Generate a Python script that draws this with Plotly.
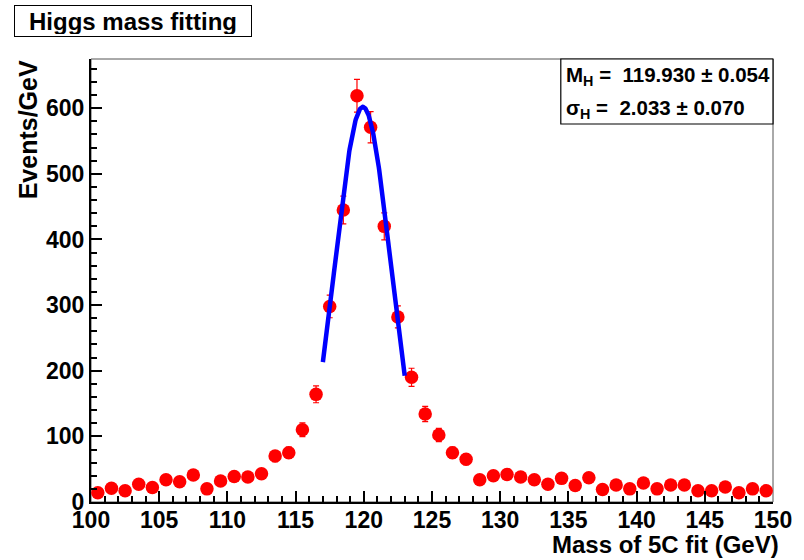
import numpy as np
import plotly.graph_objects as go

# Bin centers (GeV) and events per bin
mass = [100.5 + i for i in range(50)]
events = [14, 21, 17, 27, 22, 34, 31, 41, 20, 32,
          39, 38, 43, 70, 75, 110, 164, 298, 445, 619,
          571, 420, 282, 190, 134, 102, 75, 65, 34, 40,
          42, 38, 34, 27, 36, 25, 37, 19, 26, 20,
          29, 20, 26, 26, 17, 17, 23, 14, 20, 17]
errors = [float(np.sqrt(v)) for v in events]

# Gaussian fit parameters
fit_mean = 119.930
fit_sigma = 2.033
fit_amp = 602.0
fit_range = [117.0, 123.0]

fx = np.linspace(fit_range[0], fit_range[1], 200)
fy = fit_amp * np.exp(-0.5 * ((fx - fit_mean) / fit_sigma) ** 2)

FONT = "Liberation Sans, Arial, Helvetica, sans-serif"

fig = go.Figure()
fig.add_trace(go.Scatter(
    x=mass, y=events, mode="markers",
    marker=dict(color="#ff0000", size=13.5, line=dict(width=0)),
    error_y=dict(type="data", array=errors, color="#ff0000", thickness=1.2, width=3),
    showlegend=False, cliponaxis=False))
fig.add_trace(go.Scatter(
    x=fx, y=fy, mode="lines", line=dict(color="#0000ff", width=4.5),
    showlegend=False))

L, R, T, B = 91, 22, 59, 58
W, H = 804, 560
pw, ph = W - L - R, H - T - B

def px(xp):
    return (xp - L) / pw

def py(yp):
    return (H - B - yp) / ph

TICKFONT = dict(family=FONT, size=23, weight="bold", color="black")

fig.update_layout(
    width=W, height=H,
    margin=dict(l=L, r=R, t=T, b=B, pad=0),
    paper_bgcolor="white", plot_bgcolor="white",
    font=dict(family=FONT, color="black"),
    xaxis=dict(range=[100, 150], dtick=5, tick0=100, ticks="inside", ticklen=11,
               tickwidth=1.5, tickcolor="black", showgrid=False, zeroline=False,
               showline=True, linecolor="black", linewidth=2,
               tickfont=TICKFONT, ticklabelstandoff=-4,
               minor=dict(dtick=1, ticks="inside", ticklen=6, tickwidth=1.5,
                          tickcolor="black", showgrid=False)),
    yaxis=dict(range=[0, 675], dtick=100, tick0=0, ticks="inside", ticklen=11,
               tickwidth=1.5, tickcolor="black", showgrid=False, zeroline=False,
               showline=True, linecolor="black", linewidth=2,
               tickfont=TICKFONT,
               minor=dict(dtick=20, ticks="inside", ticklen=6, tickwidth=1.5,
                          tickcolor="black", showgrid=False)),
    shapes=[
        dict(type="rect", xref="paper", yref="paper", x0=0, x1=1, y0=0, y1=1,
             line=dict(color="#555555", width=1), layer="below"),
        dict(type="rect", xref="paper", yref="paper",
             x0=px(567), x1=px(782), y0=py(124), y1=py(59),
             line=dict(color="black", width=1.2), fillcolor="white"),
    ],
    annotations=[
        dict(text="<b>Higgs mass fitting</b>", xref="paper", yref="paper",
             x=px(13), y=py(5), xanchor="left", yanchor="top", showarrow=False,
             font=dict(family=FONT, size=24, color="black"),
             bordercolor="black", borderwidth=1, borderpad=2, bgcolor="white",
             width=232, height=26, align="center"),
        dict(text="<b>M<sub>H</sub> =  119.930 ± 0.054</b>", xref="paper", yref="paper",
             x=px(570), y=py(76), xanchor="left", yanchor="middle", showarrow=False,
             font=dict(family=FONT, size=20.5, color="black")),
        dict(text="<b>σ<sub>H</sub> =  2.033 ± 0.070</b>", xref="paper", yref="paper",
             x=px(570), y=py(109), xanchor="left", yanchor="middle", showarrow=False,
             font=dict(family=FONT, size=20.5, color="black")),
        dict(text="<b>Mass of 5C fit (GeV)</b>", xref="paper", yref="paper",
             x=px(790), y=py(544), xanchor="right", yanchor="middle", showarrow=False,
             font=dict(family=FONT, size=24, color="black")),
        dict(text="<b>Events/GeV</b>", xref="paper", yref="paper",
             x=px(27), y=py(58), xanchor="center", yanchor="top", showarrow=False,
             textangle=-90, font=dict(family=FONT, size=25, color="black")),
    ],
)

fig.write_html("out.html")
